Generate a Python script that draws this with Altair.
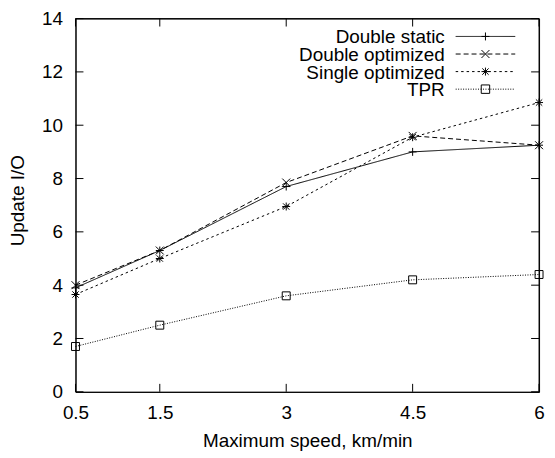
import altair as alt
import pandas as pd

# ---- data ----
speeds = [0.5, 1.5, 3, 4.5, 6]
series_names = ["Double static", "Double optimized", "Single optimized", "TPR"]
double_static = [3.9, 5.3, 7.7, 9.0, 9.25]
double_optimized = [4.0, 5.3, 7.85, 9.6, 9.25]
single_optimized = [3.65, 5.0, 6.95, 9.55, 10.85]
tpr = [1.7, 2.5, 3.6, 4.2, 4.4]
y_ticks = [0, 2, 4, 6, 8, 10, 12, 14]

series_values = [double_static, double_optimized, single_optimized, tpr]

# ---- styles ----
FONT = "Liberation Sans"
FS = 19
W, H = 467, 376
TICK = 8

dash_range = [[1, 0], [5, 3], [2.5, 3], [1, 1.5]]
shape_range = [
    "M-1,0H1M0,-1V1",
    "M-1,-1L1,1M-1,1L1,-1",
    "M-1,0H1M0,-1V1M-0.8,-0.8L0.8,0.8M-0.8,0.8L0.8,-0.8",
    "square",
]
size_range = [64, 64, 64, 72]

rows = []
for name, vals in zip(series_names, series_values):
    for s, v in zip(speeds, vals):
        rows.append({"series": name, "speed": s, "io": v})
df = pd.DataFrame(rows)

xscale = alt.Scale(domain=[0.5, 6], nice=False, zero=False)
yscale = alt.Scale(domain=[0, 14], nice=False, zero=False)

x_axis = alt.Axis(
    values=speeds, format=".1~f", ticks=False, grid=False, labelFlush=False,
    labelOverlap=False, labelPadding=12, labelFontSize=FS, labelFont=FONT,
    labelColor="black", domainColor="black",
    title="Maximum speed, km/min", titleFont=FONT, titleFontSize=FS,
    titleFontWeight="normal", titleColor="black",
    titleX=W / 2, titleY=55, titleAlign="center", titleBaseline="alphabetic",
)
y_axis = alt.Axis(
    values=y_ticks, ticks=False, grid=False, labelFlush=False,
    labelOverlap=False, labelPadding=13, labelFontSize=FS, labelFont=FONT,
    labelColor="black", domainColor="black",
    title="Update I/O", titleFont=FONT, titleFontSize=FS,
    titleFontWeight="normal", titleColor="black", titleAngle=270,
    titleX=-52, titleY=183, titleAlign="center", titleBaseline="alphabetic",
)

X = alt.X("speed:Q", scale=xscale, axis=x_axis)
Y = alt.Y("io:Q", scale=yscale, axis=y_axis)

base = alt.Chart(df)
lines = base.mark_line(color="black", strokeWidth=1).encode(
    x=X, y=Y,
    strokeDash=alt.StrokeDash("series:N", scale=alt.Scale(domain=series_names, range=dash_range), legend=None),
    detail="series:N",
)
points = base.mark_point(color="black", filled=False, strokeWidth=1, opacity=1).encode(
    x=X, y=Y,
    shape=alt.Shape("series:N", scale=alt.Scale(domain=series_names, range=shape_range), legend=None),
    size=alt.Size("series:N", scale=alt.Scale(domain=series_names, range=size_range), legend=None),
)

# plot frame (top and right borders) and inward ticks on all four sides
one = alt.Chart(pd.DataFrame({"k": [0]}))
frame_layers = [
    one.mark_rule(color="black", strokeWidth=1).encode(x=alt.value(0), x2=alt.value(W), y=alt.value(0)),
    one.mark_rule(color="black", strokeWidth=1).encode(x=alt.value(W), y=alt.value(0), y2=alt.value(H)),
]
xt = alt.Chart(pd.DataFrame({"speed": speeds}))
yt = alt.Chart(pd.DataFrame({"io": y_ticks}))
tick_layers = [
    xt.mark_rule(color="black").encode(x=X, y=alt.value(H), y2=alt.value(H - TICK)),
    xt.mark_rule(color="black").encode(x=X, y=alt.value(0), y2=alt.value(TICK)),
    yt.mark_rule(color="black").encode(y=Y, x=alt.value(0), x2=alt.value(TICK)),
    yt.mark_rule(color="black").encode(y=Y, x=alt.value(W), x2=alt.value(W - TICK)),
]

# gnuplot-style key: label right-aligned, then line sample with marker
legend_layers = []
row0, row_step = 18, 17.7
for i, name in enumerate(series_names):
    ry = row0 + i * row_step
    ld = alt.Chart(pd.DataFrame({"series": [name]}))
    legend_layers.append(
        ld.mark_text(align="right", baseline="middle", font=FONT, fontSize=FS, color="black").encode(
            x=alt.value(372), y=alt.value(ry + 1), text="series:N")
    )
    legend_layers.append(
        ld.mark_rule(color="black", strokeWidth=1, strokeDash=dash_range[i]).encode(
            x=alt.value(383), x2=alt.value(443), y=alt.value(ry))
    )
    legend_layers.append(
        ld.mark_point(color="black", filled=False, strokeWidth=1, size=size_range[i], opacity=1,
                      shape=shape_range[i]).encode(x=alt.value(413), y=alt.value(ry))
    )

chart = alt.layer(lines, points, *frame_layers, *tick_layers, *legend_layers).properties(
    width=W, height=H,
    autosize=alt.AutoSizeParams(type="none"),
    padding={"left": 68, "top": 9, "right": 8, "bottom": 62},
    background="white",
).configure_view(stroke="black", strokeWidth=1)

chart.save("out.html", embed_options={"renderer": "svg", "actions": False})
